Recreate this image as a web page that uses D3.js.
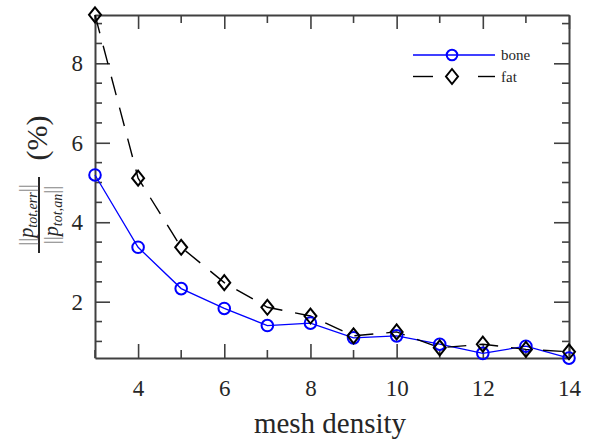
<!DOCTYPE html>
<html>
<head>
<meta charset="utf-8">
<script src="https://cdn.jsdelivr.net/npm/d3@7"></script>
<style>
  body { margin: 0; background: #fff; }
  svg { display: block; }
  text { font-family: "Liberation Serif", "DejaVu Serif", serif; fill: #262626; }
  .axis path, .axis line { stroke: #404040; }
  .axis path { stroke-width: 2; }
  .axis line { stroke-width: 1.6; }
</style>
</head>
<body>
<svg id="chart" width="592" height="439"></svg>
<script>
// mesh density values on the x axis
const meshDensity = [3, 4, 5, 6, 7, 8, 9, 10, 11, 12, 13, 14];
// relative error (%)
const boneErr = [5.19, 3.37, 2.33, 1.83, 1.40, 1.46, 1.09, 1.14, 0.93, 0.70, 0.88, 0.58];
const fatErr  = [9.22, 5.11, 3.37, 2.48, 1.86, 1.64, 1.14, 1.24, 0.84, 0.93, 0.80, 0.74];
const xTickValues = [4, 6, 8, 10, 12, 14];
const yTickValues = [2, 4, 6, 8];
const seriesNames = ["bone", "fat"];

const svg = d3.select("#chart");
const plot = {left: 95, right: 569, top: 15, bottom: 358};

const x = d3.scaleLinear().domain([3, 14]).range([plot.left, plot.right]);
const y = d3.scaleLinear().domain([0.583, 9.216]).range([plot.bottom, plot.top]);

const xMinor = d3.range(3, 14.01, 1).filter(v => !xTickValues.includes(v));
const yMinor = d3.range(1, 9.01, 0.5).filter(v => !yTickValues.includes(v));

// bottom axis, ticks pointing in
const gx = svg.append("g").attr("class", "axis")
    .attr("transform", `translate(0,${plot.bottom})`)
    .call(d3.axisBottom(x).tickValues(xTickValues).tickSizeInner(-14).tickSizeOuter(0).tickPadding(22).tickFormat(d3.format("d")));
gx.append("g").selectAll("line").data(xMinor).join("line")
    .attr("x1", d => x(d)).attr("x2", d => x(d)).attr("y1", 0).attr("y2", -8);

// top axis (no labels)
const gxt = svg.append("g").attr("class", "axis")
    .attr("transform", `translate(0,${plot.top})`)
    .call(d3.axisTop(x).tickValues(xTickValues).tickSizeInner(-14).tickSizeOuter(0).tickFormat(""));
gxt.append("g").selectAll("line").data(xMinor).join("line")
    .attr("x1", d => x(d)).attr("x2", d => x(d)).attr("y1", 0).attr("y2", 8);

// left axis
const gy = svg.append("g").attr("class", "axis")
    .attr("transform", `translate(${plot.left},0)`)
    .call(d3.axisLeft(y).tickValues(yTickValues).tickSizeInner(-15).tickSizeOuter(0).tickPadding(12).tickFormat(d3.format("d")));
gy.append("g").selectAll("line").data(yMinor).join("line")
    .attr("y1", d => y(d)).attr("y2", d => y(d)).attr("x1", 0).attr("x2", 7);

// right axis
const gyr = svg.append("g").attr("class", "axis")
    .attr("transform", `translate(${plot.right},0)`)
    .call(d3.axisRight(y).tickValues(yTickValues).tickSizeInner(-15).tickSizeOuter(0).tickFormat(""));
gyr.append("g").selectAll("line").data(yMinor).join("line")
    .attr("y1", d => y(d)).attr("y2", d => y(d)).attr("x1", 0).attr("x2", -7);

svg.selectAll(".axis").attr("font-family", null).attr("font-size", 23);

// lines
const boneLine = d3.line().x((d, i) => x(meshDensity[i])).y(d => y(d));
svg.append("path").datum(boneErr)
    .attr("d", boneLine).attr("fill", "none").attr("stroke", "#0000ff").attr("stroke-width", 1.3);
svg.append("path").datum(fatErr)
    .attr("d", boneLine).attr("fill", "none").attr("stroke", "#000").attr("stroke-width", 1.4)
    .attr("stroke-dasharray", "19,13");

const diamond = (cx, cy) => `M${cx},${cy - 7.5}L${cx + 6},${cy}L${cx},${cy + 7.5}L${cx - 6},${cy}Z`;

// markers
svg.append("g").selectAll("circle").data(boneErr).join("circle")
    .attr("cx", (d, i) => x(meshDensity[i])).attr("cy", d => y(d)).attr("r", 5.8)
    .attr("fill", "none").attr("stroke", "#0000ff").attr("stroke-width", 2);
svg.append("g").selectAll("path").data(fatErr).join("path")
    .attr("d", (d, i) => diamond(x(meshDensity[i]), y(d)))
    .attr("fill", "none").attr("stroke", "#000").attr("stroke-width", 2);

// legend
const lg = svg.append("g");
lg.append("line").attr("x1", 413).attr("x2", 495).attr("y1", 55).attr("y2", 55)
    .attr("stroke", "#0000ff").attr("stroke-width", 1.3);
lg.append("circle").attr("cx", 452).attr("cy", 55).attr("r", 5.3)
    .attr("fill", "none").attr("stroke", "#0000ff").attr("stroke-width", 2);
lg.append("line").attr("x1", 413).attr("x2", 433).attr("y1", 76.5).attr("y2", 76.5)
    .attr("stroke", "#000").attr("stroke-width", 1.4);
lg.append("line").attr("x1", 478).attr("x2", 495).attr("y1", 76.5).attr("y2", 76.5)
    .attr("stroke", "#000").attr("stroke-width", 1.4);
lg.append("path").attr("d", diamond(452, 76.5))
    .attr("fill", "none").attr("stroke", "#000").attr("stroke-width", 2);
lg.selectAll("text").data(seriesNames).join("text")
    .attr("x", 501).attr("y", (d, i) => 60 + i * 21.5)
    .attr("font-size", 15).text(d => d);

// x label
svg.append("text").attr("x", (plot.left + plot.right) / 2 - 2).attr("y", 433)
    .attr("text-anchor", "middle").attr("font-size", 29).text("mesh density");

// y label: ||p_tot,err|| / ||p_tot,an|| (%)
const yl = svg.append("g").attr("transform", "translate(39,215) rotate(-90)");
yl.append("line").attr("x1", -38).attr("x2", 38).attr("y1", 0).attr("y2", 0)
    .attr("stroke", "#262626").attr("stroke-width", 2);

function normText(yPos, sub) {
    const t = yl.append("text").attr("x", 0).attr("y", yPos)
        .attr("text-anchor", "middle").attr("font-size", 20);
    t.append("tspan").attr("fill", "#888").text("||");
    t.append("tspan").attr("font-style", "italic").text("p");
    t.append("tspan").attr("font-style", "italic").attr("font-size", 14).attr("dy", 4).text(sub);
    t.append("tspan").attr("fill", "#888").attr("dy", -4).text("||");
}
normText(-6, "tot,err");
normText(19, "tot,an");

yl.append("text").attr("x", 77).attr("y", 8).attr("text-anchor", "middle")
    .attr("font-size", 30).text("(%)");
</script>
</body>
</html>
